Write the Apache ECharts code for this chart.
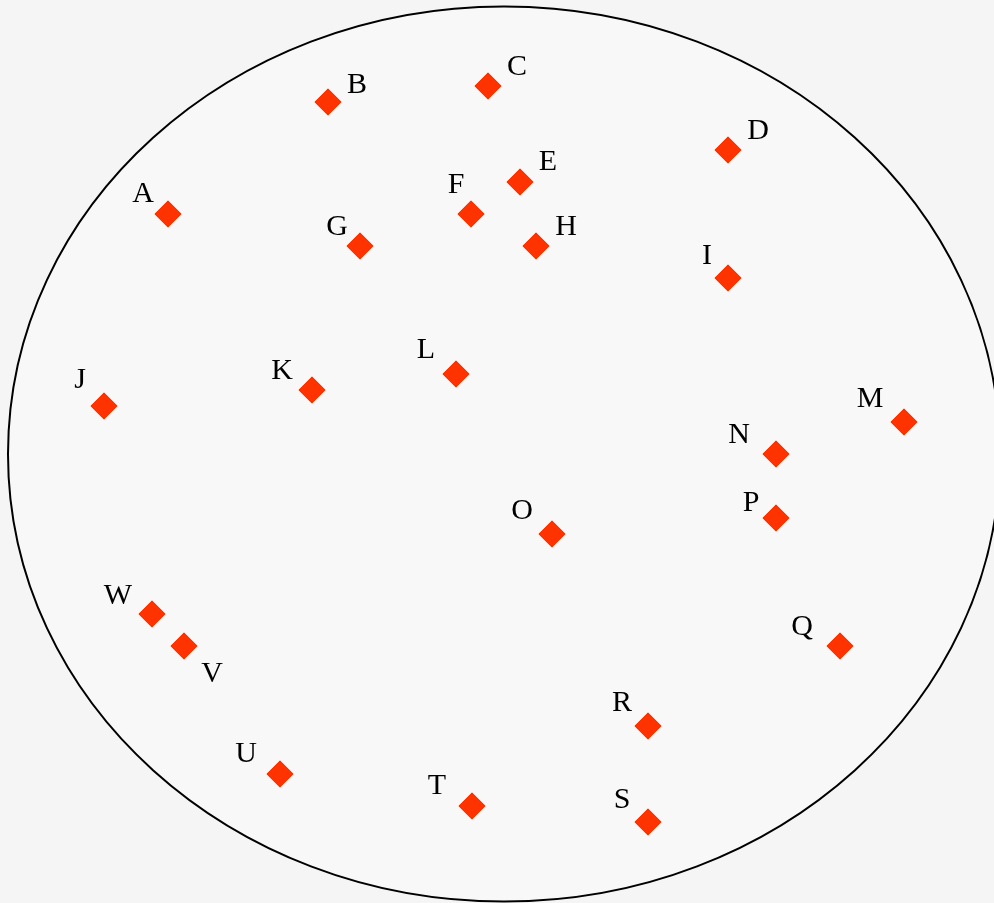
<!DOCTYPE html>
<html>
<head>
<meta charset="utf-8">
<script src="https://cdn.jsdelivr.net/npm/echarts@6/dist/echarts.min.js"></script>
<style>
html,body{margin:0;padding:0;background:#f5f5f5;}
#chart{width:994px;height:903px;}
</style>
</head>
<body>
<div id="chart"></div>
<script>
// Data
const names = ['A','B','C','D','E','F','G','H','I','J','K','L','M','N','O','P','Q','R','S','T','U','V','W'];
const xValues = [168,328,488,728,520,471,360,536,728,104,312,456,904,776,552,776,840,648,648,472,280,184,152];
const yValues = [689,801,817,753,721,689,657,657,625,497,513,529,481,449,369,385,257,177,81,97,129,257,289];

// Label placement (style)
const labelOffsets = {
  A:[-25,-20], B:[29,-17], C:[29,-19], D:[30,-19], E:[28,-20], F:[-15,-29],
  G:[-23,-19], H:[30,-19], I:[-21,-22], J:[-24,-26], K:[-30,-19], L:[-30,-24],
  M:[-34,-23], N:[-37,-19], O:[-30,-23], P:[-25,-15], Q:[-38,-19], R:[-26,-23],
  S:[-26,-22], T:[-35,-20], U:[-34,-20], V:[28,28], W:[-34,-18]
};

const seriesData = names.map((n, i) => ({
  name: n,
  value: [xValues[i], yValues[i]],
  label: { offset: labelOffsets[n] }
}));

const chart = echarts.init(document.getElementById('chart'), null, {renderer: 'canvas'});
chart.setOption({
  backgroundColor: '#f5f5f5',
  animation: false,
  graphic: [{
    type: 'ellipse',
    z: 0,
    shape: {cx: 504, cy: 454, rx: 496, ry: 447.5},
    style: {fill: '#f8f8f8', stroke: '#000', lineWidth: 2}
  }],
  grid: {left: 0, right: 0, top: 0, bottom: 0},
  xAxis: {type: 'value', min: 0, max: 994, show: false},
  yAxis: {type: 'value', min: 0, max: 903, show: false},
  series: [{
    type: 'scatter',
    symbol: 'diamond',
    symbolSize: 28,
    z: 5,
    itemStyle: {color: '#ff3300', opacity: 1, borderColor: '#ffffff', borderWidth: 0.6},
    label: {
      show: true,
      position: 'inside',
      formatter: '{b}',
      color: '#000',
      fontFamily: '"Liberation Serif", "Times New Roman", serif',
      fontSize: 30,
      align: 'center',
      verticalAlign: 'middle'
    },
    data: seriesData
  }]
});
</script>
</body>
</html>
